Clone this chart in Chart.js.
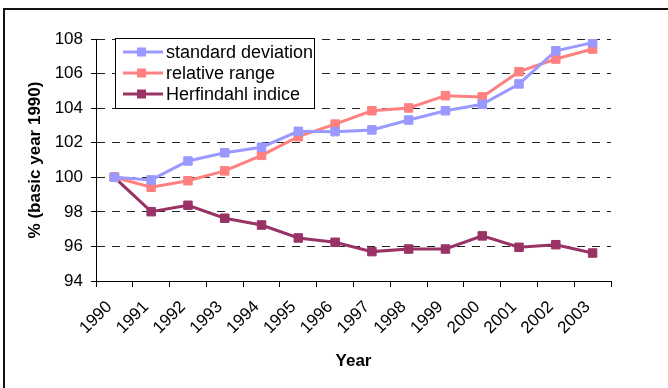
<!DOCTYPE html>
<html>
<head>
<meta charset="utf-8">
<script src="https://cdn.jsdelivr.net/npm/chart.js@4/dist/chart.umd.min.js"></script>
<style>
  html, body { margin: 0; padding: 0; background: #fff; }
  #wrap { width: 668px; height: 388px; position: relative; }
</style>
</head>
<body>
<div id="wrap"><canvas id="c" width="668" height="388"></canvas></div>
<script>
// Index values, base year 1990 = 100
const years = ['1990','1991','1992','1993','1994','1995','1996','1997','1998','1999','2000','2001','2002','2003'];
const standardDeviation = [100, 99.85, 100.94, 101.42, 101.74, 102.66, 102.64, 102.74, 103.31, 103.85, 104.22, 105.40, 107.32, 107.79];
const relativeRange     = [100, 99.42, 99.80, 100.37, 101.27, 102.35, 103.08, 103.85, 104.01, 104.72, 104.65, 106.11, 106.84, 107.42];
const herfindahl        = [100, 98.01, 98.38, 97.63, 97.24, 96.49, 96.24, 95.70, 95.85, 95.85, 96.61, 95.95, 96.10, 95.62];
const seriesNames = ['standard deviation', 'relative range', 'Herfindahl indice'];
const seriesColors = ['#9999FF', '#FF8080', '#993366'];

const FONT = 'Arial, "Liberation Sans", sans-serif';

function makeSet(label, data, color) {
  return {
    label, data,
    borderColor: color, backgroundColor: color,
    borderWidth: 3,
    pointStyle: 'rect', pointRadius: 6, pointBorderWidth: 1,
    pointBorderColor: color, pointBackgroundColor: color,
    tension: 0
  };
}

// Outer frame and in-plot legend box
const framePlugin = {
  id: 'frame',
  afterDraw(chart) {
    const ctx = chart.ctx;
    ctx.save();
    ctx.strokeStyle = '#111';
    ctx.lineWidth = 2;
    ctx.strokeRect(4, 9, 700, 420);

    // legend
    const lx = 115.5, ly = 38.5, lw = 199, lh = 70;
    ctx.fillStyle = '#fff';
    ctx.fillRect(lx, ly, lw, lh);
    ctx.lineWidth = 1;
    ctx.strokeStyle = '#000';
    ctx.strokeRect(lx, ly, lw, lh);
    ctx.font = '18px ' + FONT;
    ctx.textBaseline = 'middle';
    ctx.textAlign = 'left';
    chart.data.datasets.forEach((ds, i) => {
      const y = 52 + i * 21;
      ctx.strokeStyle = ds.borderColor;
      ctx.lineWidth = 3;
      ctx.beginPath();
      ctx.moveTo(123, y);
      ctx.lineTo(163, y);
      ctx.stroke();
      ctx.fillStyle = ds.borderColor;
      ctx.fillRect(137, y - 4.5, 9, 9);
      ctx.fillStyle = '#000';
      ctx.fillText(ds.label, 166, y + 1);
    });
    ctx.restore();
  }
};

new Chart(document.getElementById('c'), {
  type: 'line',
  data: {
    labels: years,
    datasets: [
      makeSet(seriesNames[0], standardDeviation, seriesColors[0]),
      makeSet(seriesNames[1], relativeRange, seriesColors[1]),
      makeSet(seriesNames[2], herfindahl, seriesColors[2])
    ]
  },
  options: {
    responsive: false,
    animation: false,
    layout: { padding: { top: 39, right: 57, left: 0, bottom: 0 } },
    plugins: { legend: { display: false }, tooltip: { enabled: false } },
    scales: {
      x: {
        type: 'category',
        offset: true,
        afterFit(s) { s.height = 107; },
        grid: {
          offset: true,
          drawOnChartArea: false,
          drawTicks: true,
          tickLength: 6,
          tickColor: '#000',
          tickWidth: 1
        },
        border: { display: true, color: '#000', width: 1 },
        ticks: {
          color: '#000',
          font: { family: FONT, size: 17 },
          minRotation: 45, maxRotation: 45,
          autoSkip: false,
          padding: 10,
          labelOffset: -5
        },
        title: {
          display: true,
          text: 'Year',
          color: '#000',
          font: { family: FONT, size: 17, weight: 'bold' },
          padding: { top: 4, bottom: 16 }
        }
      },
      y: {
        min: 94, max: 108,
        afterFit(s) { s.width = 96; },
        grid: {
          color: '#222',
          lineWidth: 1,
          drawTicks: true,
          tickLength: 5,
          tickColor: '#000',
          tickWidth: 1
        },
        border: { display: true, color: '#000', width: 1, dash: [8, 7] },
        ticks: {
          stepSize: 2,
          color: '#000',
          font: { family: FONT, size: 17 },
          padding: 8
        },
        title: {
          display: true,
          text: '% (basic year 1990)',
          color: '#000',
          font: { family: FONT, size: 17, weight: 'bold' },
          padding: { top: 25, bottom: 0 }
        }
      }
    }
  },
  plugins: [framePlugin]
});
</script>
</body>
</html>
